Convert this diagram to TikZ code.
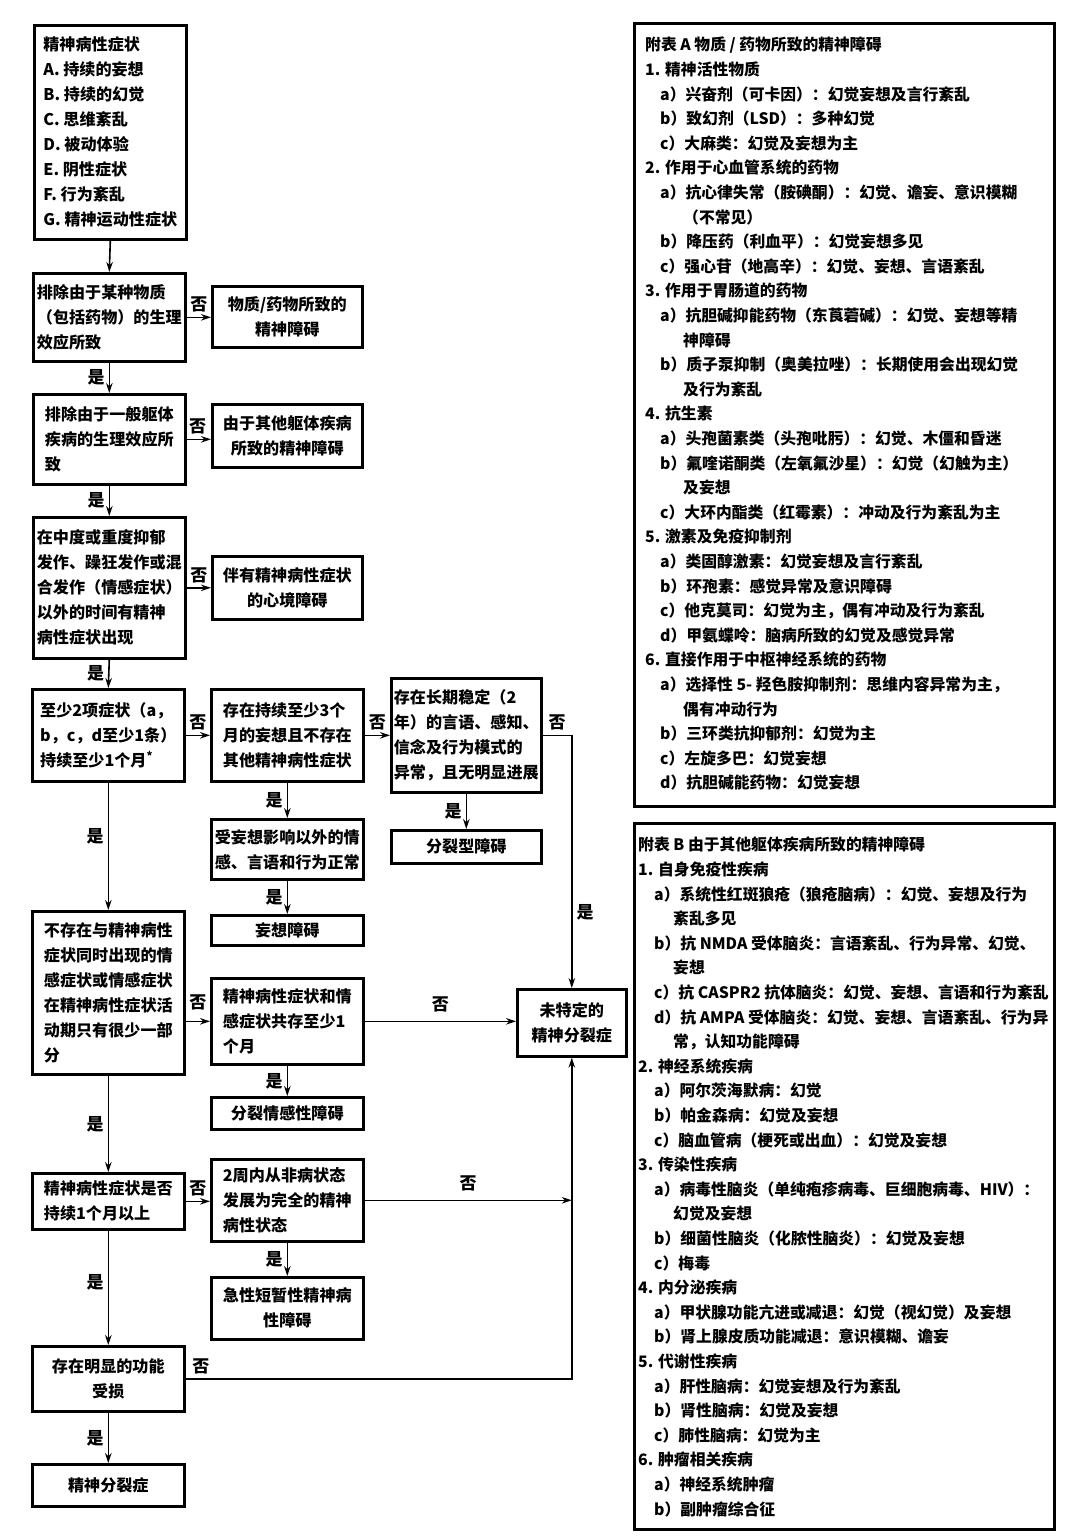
\documentclass[tikz,border=0pt]{standalone}
\usepackage{fontspec}
\setmainfont{Noto Sans CJK SC}
\usetikzlibrary{arrows.meta}
\newcommand\pind{\hspace*{15pt}}
\newcommand\pcont{\hspace*{38pt}}
\newcommand\qind{\hspace*{16pt}}
\newcommand\qcont{\hspace*{35pt}}
\begin{document}
\begin{tikzpicture}[x=1pt,y=-1pt,
  box/.style={draw, line width=2.6pt, anchor=north west, inner xsep=1.5pt, inner ysep=2pt,
    font=\fontsize{16.1}{25}\selectfont\bfseries, align=left},
  res/.style={box, align=center},
  conn/.style={line width=1.6pt, -{Stealth[length=10pt,width=6.5pt]}},
  lab/.style={font=\fontsize{17}{17}\selectfont\bfseries, inner sep=4pt},
  panel/.style={draw, line width=2.6pt, anchor=north west, inner sep=0pt},
  ptext/.style={anchor=north west, inner sep=0pt, align=left, font=\fontsize{15.8}{24.6}\selectfont\bfseries}]
\fill[white] (0,0) rectangle (1072,1540);
\useasboundingbox (0,0) rectangle (1072,1540);

% ---- left column ----
\node[box, minimum width=152pt, minimum height=214pt] (b1) at (33,24)
  {精神病性症状\\A. 持续的妄想\\B. 持续的幻觉\\C. 思维紊乱\\D. 被动体验\\E. 阴性症状\\F. 行为紊乱\\G. 精神运动性症状};
\node[box, minimum width=152pt, minimum height=88pt] (b2) at (32,272)
  {排除由于某种物质\\（包括药物）的生理\\效应所致};
\node[res, minimum width=150pt, minimum height=61pt] (r2) at (211,285)
  {物质/药物所致的\\精神障碍};
\node[box, minimum width=152pt, minimum height=90pt] (b3) at (32,393)
  {排除由于一般躯体\\疾病的生理效应所\\致};
\node[res, minimum width=150pt, minimum height=63pt] (r3) at (211,403)
  {由于其他躯体疾病\\所致的精神障碍};
\node[box, minimum width=152pt, minimum height=141pt] (b4) at (32,516)
  {在中度或重度抑郁\\发作、躁狂发作或混\\合发作（情感症状）\\以外的时间有精神\\病性症状出现};
\node[res, minimum width=150pt, minimum height=63pt] (r4) at (211,555)
  {伴有精神病性症状\\的心境障碍};
\node[box, minimum width=152pt, minimum height=92pt] (b5) at (31,688)
  {至少2项症状（a，\\b，c，d至少1条）\\持续至少1个月\textsuperscript{*}};
\node[box, minimum width=152pt, minimum height=92pt] (b6) at (210,688)
  {存在持续至少3个\\月的妄想且不存在\\其他精神病性症状};
\node[box, minimum width=150pt, minimum height=114pt] (b7) at (390,677)
  {存在长期稳定（2\\年）的言语、感知、\\信念及行为模式的\\异常，且无明显进展};
\node[res, minimum width=152pt, minimum height=60pt] (r6a) at (210,818)
  {受妄想影响以外的情\\感、言语和行为正常};
\node[res, minimum width=152pt, minimum height=30pt] (r6b) at (210,914) {妄想障碍};
\node[res, minimum width=150pt, minimum height=33pt] (r7) at (390,829) {分裂型障碍};
\node[box, minimum width=152pt, minimum height=163pt] (b8) at (31,910)
  {不存在与精神病性\\症状同时出现的情\\感症状或情感症状\\在精神病性症状活\\动期只有很少一部\\分};
\node[box, minimum width=152pt, minimum height=86pt] (b9) at (210,977)
  {精神病性症状和情\\感症状共存至少1\\个月};
\node[res, minimum width=109pt, minimum height=67pt] (us) at (516,988)
  {未特定的\\精神分裂症};
\node[res, minimum width=152pt, minimum height=32pt] (r9) at (210,1096) {分裂情感性障碍};
\node[box, minimum width=152pt, minimum height=56pt] (b10) at (31,1172)
  {精神病性症状是否\\持续1个月以上};
\node[box, minimum width=152pt, minimum height=82pt] (b11) at (210,1158)
  {2周内从非病状态\\发展为完全的精神\\病性状态};
\node[res, minimum width=152pt, minimum height=62pt] (r11) at (210,1276)
  {急性短暂性精神病\\性障碍};
\node[res, minimum width=152pt, minimum height=65pt] (b12) at (31,1345)
  {存在明显的功能\\受损};
\node[res, minimum width=152pt, minimum height=42pt] (b13) at (31,1463) {精神分裂症};

% ---- connectors ----
\draw[conn] (b1.south) -- (b2.north);
\draw[conn] (b2.east) -- node[lab, above]{否} (b2.east -| r2.west);
\draw[conn] (b2.south) -- node[lab, left]{是} (b3.north);
\draw[conn] (b3.east) -- node[lab, above, pos=0.45]{否} (b3.east -| r3.west);
\draw[conn] (b3.south) -- node[lab, left]{是} (b4.north);
\draw[conn] (b4.east) -- node[lab, above]{否} (b4.east -| r4.west);
\draw[conn] (b4.south) -- node[lab, left]{是} (b5.north);
\draw[conn] (b5.east) -- node[lab, above]{否} (b5.east -| b6.west);
\draw[conn] (b6.east) -- node[lab, above]{否} (b6.east -| b7.west);
\draw[conn] (b6.south) -- node[lab, left]{是} (r6a.north);
\draw[conn] (r6a.south) -- node[lab, left]{是} (r6b.north);
\draw[conn] (b7.south) -- node[lab, left]{是} (r7.north);
\draw[conn] (b7.east) -- node[lab, above]{否} (b7.east -| us.north) -- node[lab, right, pos=0.7]{是} (us.north);
\draw[conn] (b5.south) -- node[lab, left, pos=0.42]{是} (b8.north);
\draw[conn] (b8.east |- b9.west) -- node[lab, above, yshift=6pt]{否} (b9.west);
\draw[conn] (b9.east) -- node[lab, above, yshift=4pt]{否} (b9.east -| us.west);
\draw[conn] (b9.south) -- node[lab, left]{是} (r9.north);
\draw[conn] (b8.south) -- node[lab, left]{是} (b10.north);
\draw[conn] (b10.east) -- node[lab, above]{否} (b10.east -| b11.west);
\draw[conn] (b11.east) -- node[lab, above, yshift=4pt]{否} (b11.east -| us.south);
\draw[conn] (b11.south) -- node[lab, left]{是} (r11.north);
\draw[conn] (b10.south) -- node[lab, left, pos=0.45]{是} (b12.north);
\draw[conn] (b12.east) -- node[lab, above right, pos=0, xshift=2pt]{否} (b12.east -| us.south) -- (us.south);
\draw[conn] (b12.south) -- node[lab, left]{是} (b13.north);

% ---- panel A ----
\node[panel, minimum width=420pt, minimum height=783pt] (pa) at (633,22) {};
\node[ptext] (pat) at (645,37) {附表 A 物质 / 药物所致的精神障碍\\
1. 精神活性物质\\
\pind a）兴奋剂（可卡因）：幻觉妄想及言行紊乱\\
\pind b）致幻剂（LSD）：多种幻觉\\
\pind c）大麻类：幻觉及妄想为主\\
2. 作用于心血管系统的药物\\
\pind a）抗心律失常（胺碘酮）：幻觉、谵妄、意识模糊\\
\pcont （不常见）\\
\pind b）降压药（利血平）：幻觉妄想多见\\
\pind c）强心苷（地高辛）：幻觉、妄想、言语紊乱\\
3. 作用于胃肠道的药物\\
\pind a）抗胆碱抑能药物（东莨菪碱）：幻觉、妄想等精\\
\pcont 神障碍\\
\pind b）质子泵抑制（奥美拉唑）：长期使用会出现幻觉\\
\pcont 及行为紊乱\\
4. 抗生素\\
\pind a）头孢菌素类（头孢吡肟）：幻觉、木僵和昏迷\\
\pind b）氟喹诺酮类（左氧氟沙星）：幻觉（幻触为主）\\
\pcont 及妄想\\
\pind c）大环内酯类（红霉素）：冲动及行为紊乱为主\\
5. 激素及免疫抑制剂\\
\pind a）类固醇激素：幻觉妄想及言行紊乱\\
\pind b）环孢素：感觉异常及意识障碍\\
\pind c）他克莫司：幻觉为主，偶有冲动及行为紊乱\\
\pind d）甲氨蝶呤：脑病所致的幻觉及感觉异常\\
6. 直接作用于中枢神经系统的药物\\
\pind a）选择性 5- 羟色胺抑制剂：思维内容异常为主，\\
\pcont 偶有冲动行为\\
\pind b）三环类抗抑郁剂：幻觉为主\\
\pind c）左旋多巴：幻觉妄想\\
\pind d）抗胆碱能药物：幻觉妄想};

% ---- panel B ----
\node[panel, minimum width=420pt, minimum height=706pt] (pb) at (633,822) {};
\node[ptext] (pbt) at (638,837) {附表 B 由于其他躯体疾病所致的精神障碍\\
1. 自身免疫性疾病\\
\qind a）系统性红斑狼疮（狼疮脑病）：幻觉、妄想及行为\\
\qcont 紊乱多见\\
\qind b）抗 NMDA 受体脑炎：言语紊乱、行为异常、幻觉、\\
\qcont 妄想\\
\qind c）抗 CASPR2 抗体脑炎：幻觉、妄想、言语和行为紊乱\\
\qind d）抗 AMPA 受体脑炎：幻觉、妄想、言语紊乱、行为异\\
\qcont 常，认知功能障碍\\
2. 神经系统疾病\\
\qind a）阿尔茨海默病：幻觉\\
\qind b）帕金森病：幻觉及妄想\\
\qind c）脑血管病（梗死或出血）：幻觉及妄想\\
3. 传染性疾病\\
\qind a）病毒性脑炎（单纯疱疹病毒、巨细胞病毒、HIV）：\\
\qcont 幻觉及妄想\\
\qind b）细菌性脑炎（化脓性脑炎）：幻觉及妄想\\
\qind c）梅毒\\
4. 内分泌疾病\\
\qind a）甲状腺功能亢进或减退：幻觉（视幻觉）及妄想\\
\qind b）肾上腺皮质功能减退：意识模糊、谵妄\\
5. 代谢性疾病\\
\qind a）肝性脑病：幻觉妄想及行为紊乱\\
\qind b）肾性脑病：幻觉及妄想\\
\qind c）肺性脑病：幻觉为主\\
6. 肿瘤相关疾病\\
\qind a）神经系统肿瘤\\
\qind b）副肿瘤综合征};
\end{tikzpicture}
\end{document}
